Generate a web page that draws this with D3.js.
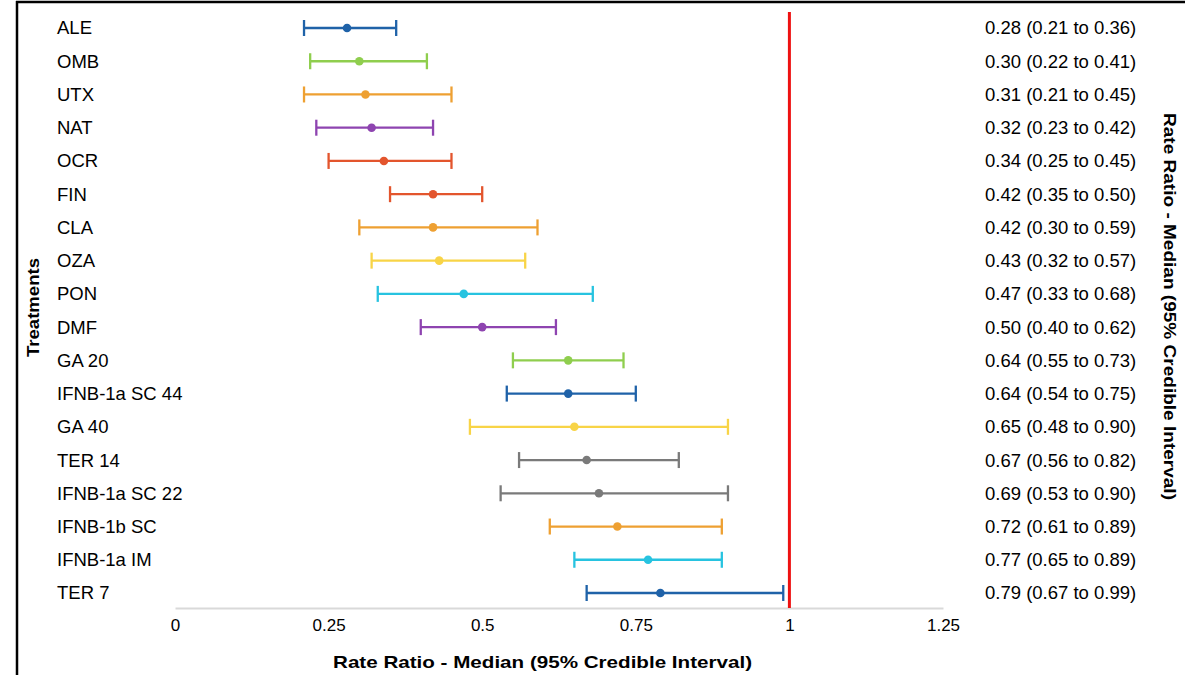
<!DOCTYPE html>
<html>
<head>
<meta charset="utf-8">
<script src="https://cdn.jsdelivr.net/npm/d3@7"></script>
<style>
  body { margin: 0; background: #fff; }
  svg { display: block; font-family: Arial, "Liberation Sans", sans-serif; }
</style>
</head>
<body>
<svg id="chart" width="1185" height="675"></svg>
<script>
var treatments = ["ALE", "OMB", "UTX", "NAT", "OCR", "FIN", "CLA", "OZA", "PON", "DMF",
    "GA 20", "IFNB-1a SC 44", "GA 40", "TER 14", "IFNB-1a SC 22", "IFNB-1b SC", "IFNB-1a IM", "TER 7"];
var medians = [0.28, 0.30, 0.31, 0.32, 0.34, 0.42, 0.42, 0.43, 0.47, 0.50, 0.64, 0.64, 0.65, 0.67, 0.69, 0.72, 0.77, 0.79];
var lower   = [0.21, 0.22, 0.21, 0.23, 0.25, 0.35, 0.30, 0.32, 0.33, 0.40, 0.55, 0.54, 0.48, 0.56, 0.53, 0.61, 0.65, 0.67];
var upper   = [0.36, 0.41, 0.45, 0.42, 0.45, 0.50, 0.59, 0.57, 0.68, 0.62, 0.73, 0.75, 0.90, 0.82, 0.90, 0.89, 0.89, 0.99];
var colors  = ["#1f62a8", "#8fce4e", "#eea032", "#8e44b0", "#e3552d", "#e3552d", "#eea032", "#f8d447", "#27c3e0", "#8e44b0",
    "#8fce4e", "#1f62a8", "#f8d447", "#7a7a7a", "#7a7a7a", "#eea032", "#27c3e0", "#1f62a8"];
var xTicks = [0, 0.25, 0.5, 0.75, 1, 1.25];

var rows = treatments.map(function (t, i) {
    return { name: t, med: medians[i], lo: lower[i], hi: upper[i], color: colors[i] };
});

var svg = d3.select("#chart");

var x = d3.scaleLinear().domain([0, 1.25]).range([175, 943]);
var y = d3.scalePoint().domain(treatments).range([28, 593]);

// frame
svg.append("line").attr("x1", 16).attr("x2", 1185).attr("y1", 2).attr("y2", 2)
    .attr("stroke", "#000").attr("stroke-width", 2.5);
svg.append("line").attr("x1", 17).attr("x2", 17).attr("y1", 1).attr("y2", 675)
    .attr("stroke", "#000").attr("stroke-width", 2.5);

// x axis
var xAxis = d3.axisBottom(x).tickValues(xTicks).tickSize(0).tickPadding(11)
    .tickFormat(function (d) { return String(d); });
var gx = svg.append("g").attr("transform", "translate(0,608)").call(xAxis);
gx.select(".domain").attr("stroke", "#d9d9d9").attr("stroke-width", 2);
gx.selectAll("text").attr("font-size", 17).attr("fill", "#000")
    .attr("font-family", "Arial, 'Liberation Sans', sans-serif");

// reference line at 1
svg.append("line")
    .attr("x1", x(1)).attr("x2", x(1)).attr("y1", 12).attr("y2", 608)
    .attr("stroke", "#ee1111").attr("stroke-width", 3);

// error bars
var g = svg.selectAll(".row").data(rows).enter().append("g").attr("class", "row")
    .attr("transform", function (d) { return "translate(0," + y(d.name) + ")"; });

g.append("line")
    .attr("x1", function (d) { return x(d.lo); })
    .attr("x2", function (d) { return x(d.hi); })
    .attr("stroke", function (d) { return d.color; })
    .attr("stroke-width", 2.3);
g.append("line")
    .attr("x1", function (d) { return x(d.lo); }).attr("x2", function (d) { return x(d.lo); })
    .attr("y1", -8).attr("y2", 8)
    .attr("stroke", function (d) { return d.color; }).attr("stroke-width", 2.3);
g.append("line")
    .attr("x1", function (d) { return x(d.hi); }).attr("x2", function (d) { return x(d.hi); })
    .attr("y1", -8).attr("y2", 8)
    .attr("stroke", function (d) { return d.color; }).attr("stroke-width", 2.3);
g.append("circle")
    .attr("cx", function (d) { return x(d.med); })
    .attr("r", 4.3)
    .attr("fill", function (d) { return d.color; });

// left labels
g.append("text")
    .attr("x", 57).attr("dy", "0.35em")
    .attr("font-size", 18.5).attr("fill", "#000")
    .text(function (d) { return d.name; });

// right labels
g.append("text")
    .attr("x", 985).attr("dy", "0.35em")
    .attr("font-size", 18.5).attr("fill", "#000")
    .text(function (d) { return d.med.toFixed(2) + " (" + d.lo.toFixed(2) + " to " + d.hi.toFixed(2) + ")"; });

// axis titles
svg.append("text")
    .attr("x", 333).attr("y", 668)
    .attr("font-size", 17).attr("font-weight", "bold")
    .attr("textLength", 419).attr("lengthAdjust", "spacingAndGlyphs")
    .text("Rate Ratio - Median (95% Credible Interval)");

svg.append("text")
    .attr("transform", "translate(39,357) rotate(-90)")
    .attr("font-size", 17).attr("font-weight", "bold")
    .attr("textLength", 99).attr("lengthAdjust", "spacingAndGlyphs")
    .text("Treatments");

svg.append("text")
    .attr("transform", "translate(1164,113) rotate(90)")
    .attr("font-size", 17).attr("font-weight", "bold")
    .attr("textLength", 387).attr("lengthAdjust", "spacingAndGlyphs")
    .text("Rate Ratio - Median (95% Credible Interval)");
</script>
</body>
</html>
